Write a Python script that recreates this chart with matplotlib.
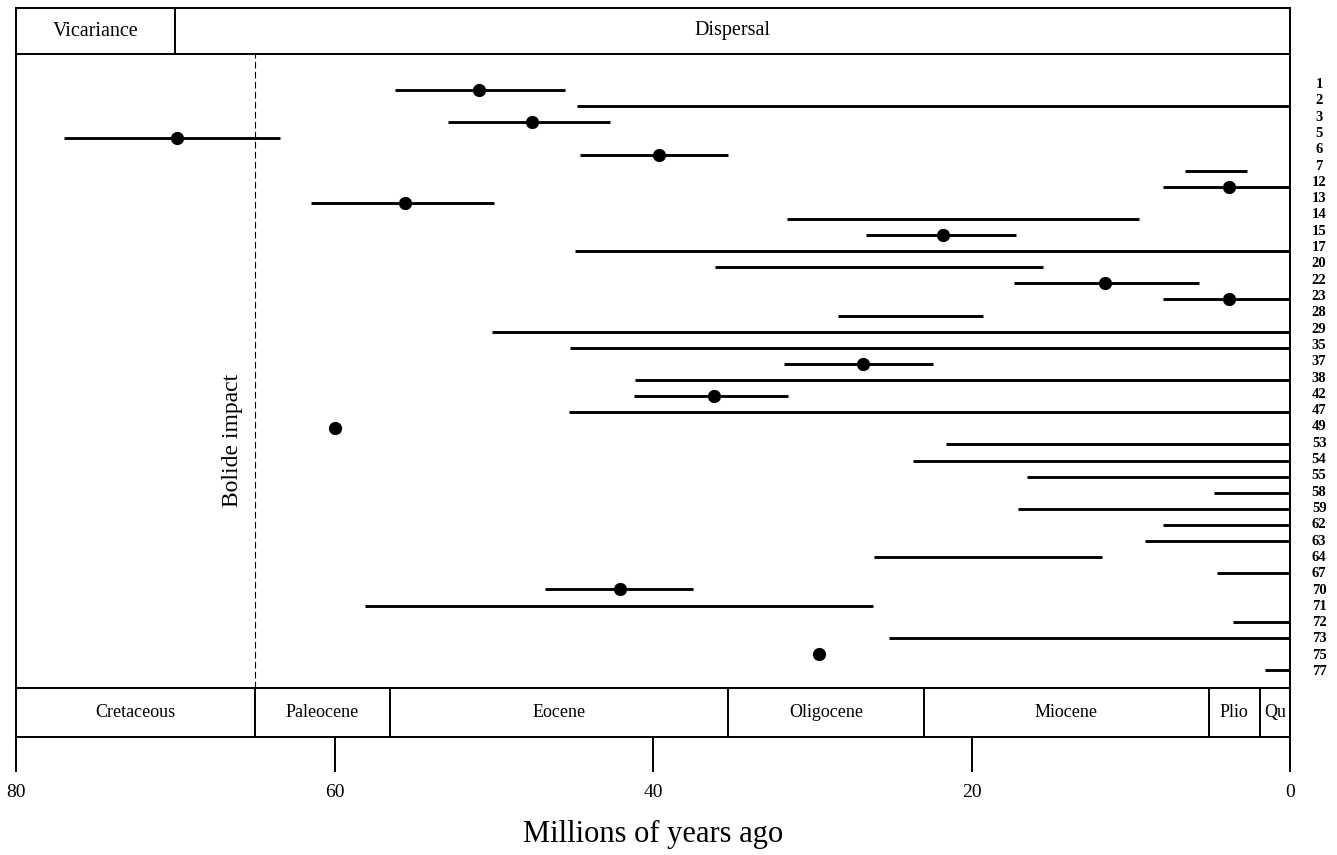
import numpy as np
import matplotlib.pyplot as plt
import matplotlib.transforms as mtransforms

plt.rcParams['font.family'] = ['Liberation Serif', 'DejaVu Serif']

# taxon numbers, top to bottom
taxa = ['1', '2', '3', '5', '6', '7', '12', '13', '14', '15', '17', '20',
        '22', '23', '28', '29', '35', '37', '38', '42', '47', '49', '53', '54',
        '55', '58', '59', '62', '63', '64', '67', '70', '71', '72', '73', '75', '77']
# range of each estimate (Ma); nan where only a point is shown
oldest = [56.2, 44.8, 52.9, 77.0, 44.6, 6.6, 8.0, 61.5, 31.6, 26.6, 44.9, 36.1,
          17.3, 8.0, 28.4, 50.1, 45.2, 31.8, 41.1, 41.2, 45.3, np.nan, 21.6, 23.7,
          16.5, 4.8, 17.1, 8.0, 9.1, 26.1, 4.6, 46.8, 58.1, 3.6, 25.2, np.nan, 1.6]
youngest = [45.5, 0.0, 42.7, 63.4, 35.3, 2.7, 0.0, 50.0, 9.5, 17.2, 0.0, 15.5,
            5.7, 0.0, 19.3, 0.0, 0.0, 22.4, 0.0, 31.5, 0.0, np.nan, 0.0, 0.0,
            0.0, 0.0, 0.0, 0.0, 0.0, 11.8, 0.0, 37.5, 26.2, 0.0, 0.0, np.nan, 0.0]
# point estimate (Ma); nan where no dot
point = [50.9, np.nan, 47.6, 69.9, 39.6, np.nan, 3.8, 55.6, np.nan, 21.8, np.nan, np.nan,
         11.6, 3.8, np.nan, np.nan, np.nan, 26.8, np.nan, 36.2, np.nan, 60.0, np.nan, np.nan,
         np.nan, np.nan, np.nan, np.nan, np.nan, np.nan, np.nan, 42.1, np.nan, np.nan, np.nan, 29.6, np.nan]

mode_names = ['Vicariance', 'Dispersal']
mode_bounds = [80, 70, 0]
epoch_names = ['Cretaceous', 'Paleocene', 'Eocene', 'Oligocene', 'Miocene', 'Plio', 'Qu']
epoch_bounds = [80, 65, 56.5, 35.3, 23.0, 5.1, 1.9, 0]
bolide = 65
xticks = [80, 60, 40, 20, 0]

W, H = 1337, 855
LW = 1.4


def box(l, t, r, b):
    return [l / W, 1 - b / H, (r - l) / W, (b - t) / H]


fig = plt.figure(figsize=(W / 100, H / 100), dpi=100)
ax_top = fig.add_axes(box(16, 8, 1290, 54))
ax = fig.add_axes(box(16, 54, 1290, 688), sharex=ax_top)
ax_ep = fig.add_axes(box(16, 688, 1290, 737), sharex=ax_top)

ax_top.set_xlim(80, 0)
for a in (ax_top, ax, ax_ep):
    for s in a.spines.values():
        s.set_linewidth(LW)
    a.set_yticks([])
ax_top.tick_params(bottom=False, labelbottom=False)
ax.tick_params(bottom=False, labelbottom=False)


def band(a, names, bounds, size):
    trans = mtransforms.blended_transform_factory(a.transData, a.transAxes)
    for b in bounds[1:-1]:
        a.axvline(b, color='black', lw=LW)
    for name, b0, b1 in zip(names, bounds[:-1], bounds[1:]):
        a.text((b0 + b1) / 2, 0.5, name, transform=trans, ha='center', va='center',
               fontsize=size)


band(ax_top, mode_names, mode_bounds, 14.5)
band(ax_ep, epoch_names, epoch_bounds, 13)

# ranges and point estimates
rows = np.arange(len(taxa))
ax.hlines(rows, oldest, youngest, color='black', lw=2.1)
ax.plot(point, rows, 'o', color='black', ms=8.5)
ax.set_ylim(37.12, -2.24)

# bolide impact
ax.axvline(bolide, color='black', lw=0.8, ls=(0, (6, 3)))
ax.text(bolide + 1.4, 0.39, 'Bolide impact', rotation=90, ha='center', va='center',
        fontsize=17, transform=mtransforms.blended_transform_factory(ax.transData, ax.transAxes))

# taxon labels on the right
ax_lab = ax.twinx()
ax_lab.set_ylim(37.10, -1.78)
ax_lab.set_yticks(rows, taxa)
ax_lab.tick_params(axis='y', length=0, pad=21, labelsize=10.5)
for lbl in ax_lab.get_yticklabels():
    lbl.set_ha('center')
    lbl.set_fontweight('bold')
for s in ax_lab.spines.values():
    s.set_visible(False)

# time axis
ax_ep.set_xticks(xticks)
ax_ep.tick_params(axis='x', direction='out', length=25, width=LW, labelsize=14, pad=9)
fig.text(653 / W, 1 - 834 / H, 'Millions of years ago', ha='center', va='center', fontsize=22)

fig.savefig('out.png', dpi=100)
